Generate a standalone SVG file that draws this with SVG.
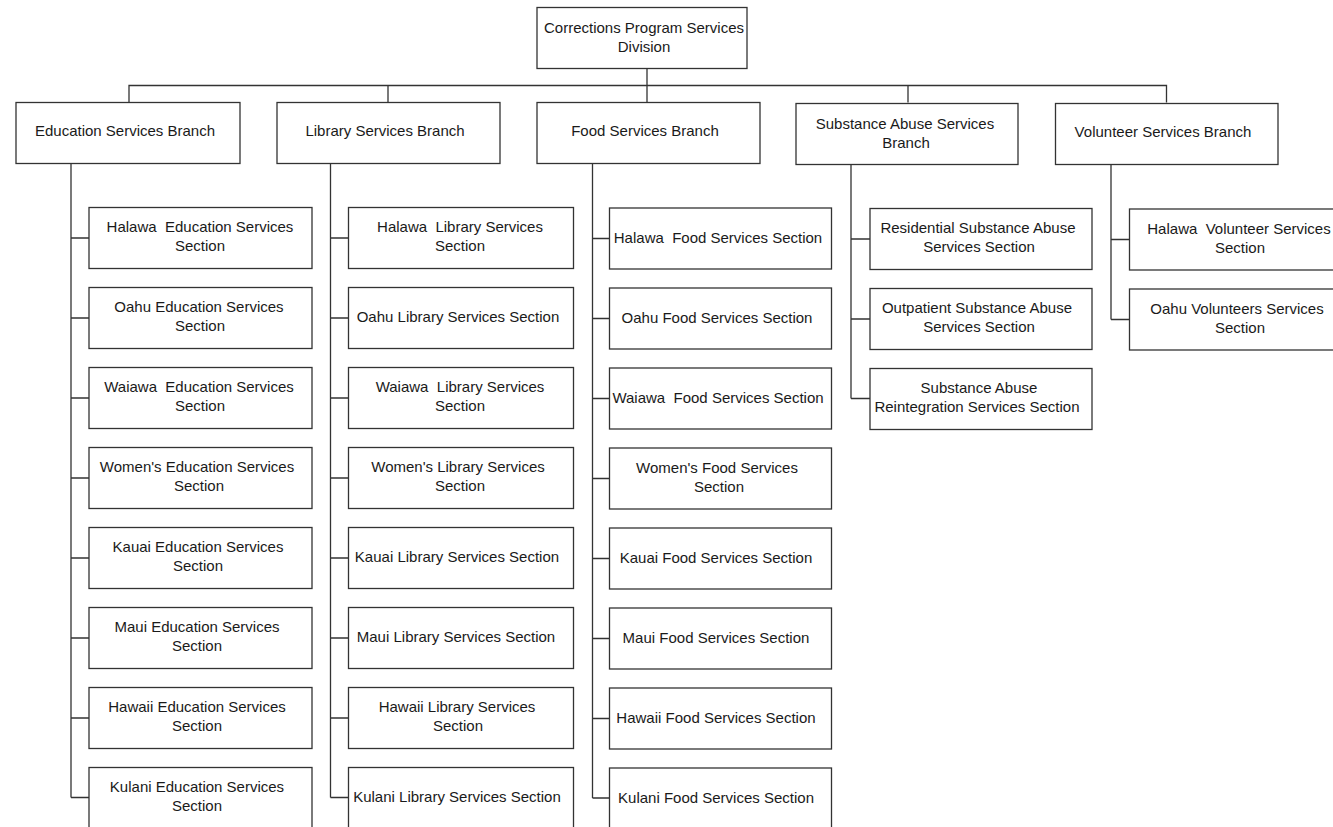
<svg xmlns="http://www.w3.org/2000/svg" width="1333" height="827" viewBox="0 0 1333 827">
<style>
.box{fill:#fff;stroke:#333;stroke-width:1.3}
.t{font-family:"Liberation Sans",Arial,sans-serif;font-size:15px;fill:#1a1a1a;text-anchor:middle;white-space:pre}
.c{fill:none;stroke:#333;stroke-width:1.3}
</style>
<rect width="1333" height="827" fill="#fff"/>
<g id="connectors" class="c">
<path d="M647 68.5V102.5M129 102.5V85.5H1166.5V102.5M388 85.5V102.5M908 85.5V102.5"/>
<path d="M71 163.5V797.5M71 238H89M71 318H89M71 398H89M71 478H89M71 558H89M71 638H89M71 718H89M71 797.5H89"/>
<path d="M330.5 163.5V797.5M330.5 238H348.5M330.5 318H348.5M330.5 398H348.5M330.5 478H348.5M330.5 558H348.5M330.5 638H348.5M330.5 718H348.5M330.5 797.5H348.5"/>
<path d="M592.5 163.5V798M592.5 238.5H609.5M592.5 318.5H609.5M592.5 398.5H609.5M592.5 478.5H609.5M592.5 558.5H609.5M592.5 638.5H609.5M592.5 718.5H609.5M592.5 798H609.5"/>
<path d="M851 164.5V398.5M851 239H870M851 319H870M851 398.5H870"/>
<path d="M1111 164.5V319.5M1111 239.5H1129.5M1111 319.5H1129.5"/>
</g>
<g id="n-division"><rect class="box" x="537" y="7.5" width="210" height="61"/><text class="t" x="644" y="32.5">Corrections Program Services</text><text class="t" x="644" y="51.5">Division</text></g>
<g id="n-edu"><rect class="box" x="16" y="102.5" width="224" height="61"/><text class="t" x="125" y="136">Education Services Branch</text></g>
<g id="n-lib"><rect class="box" x="277" y="102.5" width="223" height="61"/><text class="t" x="385" y="136">Library Services Branch</text></g>
<g id="n-food"><rect class="box" x="537" y="102.5" width="223" height="61"/><text class="t" x="645" y="136">Food Services Branch</text></g>
<g id="n-sub"><rect class="box" x="796" y="103.5" width="222" height="61"/><text class="t" x="905" y="128.5">Substance Abuse Services</text><text class="t" x="906" y="147.5">Branch</text></g>
<g id="n-vol"><rect class="box" x="1055.5" y="103.5" width="222.5" height="61"/><text class="t" x="1163" y="137">Volunteer Services Branch</text></g>

<g id="n-edu-halawa"><rect class="box" x="89" y="207.5" width="223" height="61"/><text class="t" x="200" y="232">Halawa  Education Services</text><text class="t" x="200" y="251">Section</text></g>
<g id="n-edu-oahu"><rect class="box" x="89" y="287.5" width="223" height="61"/><text class="t" x="199" y="312">Oahu Education Services</text><text class="t" x="200" y="331">Section</text></g>
<g id="n-edu-waiawa"><rect class="box" x="89" y="367.5" width="223" height="61"/><text class="t" x="199" y="392">Waiawa  Education Services</text><text class="t" x="200" y="411">Section</text></g>
<g id="n-edu-women"><rect class="box" x="89" y="447.5" width="223" height="61"/><text class="t" x="197" y="472">Women's Education Services</text><text class="t" x="199" y="491">Section</text></g>
<g id="n-edu-kauai"><rect class="box" x="89" y="527.5" width="223" height="61"/><text class="t" x="198" y="552">Kauai Education Services</text><text class="t" x="198" y="571">Section</text></g>
<g id="n-edu-maui"><rect class="box" x="89" y="607.5" width="223" height="61"/><text class="t" x="197" y="632">Maui Education Services</text><text class="t" x="197" y="651">Section</text></g>
<g id="n-edu-hawaii"><rect class="box" x="89" y="687.5" width="223" height="61"/><text class="t" x="197" y="712">Hawaii Education Services</text><text class="t" x="197" y="731">Section</text></g>
<g id="n-edu-kulani"><rect class="box" x="89" y="767.5" width="223" height="61"/><text class="t" x="197" y="792">Kulani Education Services</text><text class="t" x="197" y="811">Section</text></g>

<g id="n-lib-halawa"><rect class="box" x="348.5" y="207.5" width="225" height="61"/><text class="t" x="460" y="232">Halawa  Library Services</text><text class="t" x="460" y="251">Section</text></g>
<g id="n-lib-oahu"><rect class="box" x="348.5" y="287.5" width="225" height="61"/><text class="t" x="458" y="322">Oahu Library Services Section</text></g>
<g id="n-lib-waiawa"><rect class="box" x="348.5" y="367.5" width="225" height="61"/><text class="t" x="460" y="392">Waiawa  Library Services</text><text class="t" x="460" y="411">Section</text></g>
<g id="n-lib-women"><rect class="box" x="348.5" y="447.5" width="225" height="61"/><text class="t" x="458" y="472">Women's Library Services</text><text class="t" x="460" y="491">Section</text></g>
<g id="n-lib-kauai"><rect class="box" x="348.5" y="527.5" width="225" height="61"/><text class="t" x="457" y="562">Kauai Library Services Section</text></g>
<g id="n-lib-maui"><rect class="box" x="348.5" y="607.5" width="225" height="61"/><text class="t" x="456" y="642">Maui Library Services Section</text></g>
<g id="n-lib-hawaii"><rect class="box" x="348.5" y="687.5" width="225" height="61"/><text class="t" x="457" y="712">Hawaii Library Services</text><text class="t" x="458" y="731">Section</text></g>
<g id="n-lib-kulani"><rect class="box" x="348.5" y="767.5" width="225" height="61"/><text class="t" x="457" y="802">Kulani Library Services Section</text></g>

<g id="n-food-halawa"><rect class="box" x="609.5" y="208" width="222" height="61"/><text class="t" x="718" y="243">Halawa  Food Services Section</text></g>
<g id="n-food-oahu"><rect class="box" x="609.5" y="288" width="222" height="61"/><text class="t" x="717" y="323">Oahu Food Services Section</text></g>
<g id="n-food-waiawa"><rect class="box" x="609.5" y="368" width="222" height="61"/><text class="t" x="718" y="403">Waiawa  Food Services Section</text></g>
<g id="n-food-women"><rect class="box" x="609.5" y="448" width="222" height="61"/><text class="t" x="717" y="472.5">Women's Food Services</text><text class="t" x="719" y="491.5">Section</text></g>
<g id="n-food-kauai"><rect class="box" x="609.5" y="528" width="222" height="61"/><text class="t" x="716" y="563">Kauai Food Services Section</text></g>
<g id="n-food-maui"><rect class="box" x="609.5" y="608" width="222" height="61"/><text class="t" x="716" y="643">Maui Food Services Section</text></g>
<g id="n-food-hawaii"><rect class="box" x="609.5" y="688" width="222" height="61"/><text class="t" x="716" y="723">Hawaii Food Services Section</text></g>
<g id="n-food-kulani"><rect class="box" x="609.5" y="768" width="222" height="61"/><text class="t" x="716" y="803">Kulani Food Services Section</text></g>

<g id="n-sub-res"><rect class="box" x="870" y="208.5" width="222" height="61"/><text class="t" x="978" y="233">Residential Substance Abuse</text><text class="t" x="979" y="252">Services Section</text></g>
<g id="n-sub-out"><rect class="box" x="870" y="288.5" width="222" height="61"/><text class="t" x="977" y="313">Outpatient Substance Abuse</text><text class="t" x="979" y="332">Services Section</text></g>
<g id="n-sub-reint"><rect class="box" x="870" y="368.5" width="222" height="61"/><text class="t" x="979" y="393">Substance Abuse</text><text class="t" x="977" y="412">Reintegration Services Section</text></g>

<g id="n-vol-halawa"><rect class="box" x="1129.5" y="209" width="222" height="61"/><text class="t" x="1239" y="233.5">Halawa  Volunteer Services</text><text class="t" x="1240" y="252.5">Section</text></g>
<g id="n-vol-oahu"><rect class="box" x="1129.5" y="289" width="222" height="61"/><text class="t" x="1237" y="313.5">Oahu Volunteers Services</text><text class="t" x="1240" y="332.5">Section</text></g>
</svg>
